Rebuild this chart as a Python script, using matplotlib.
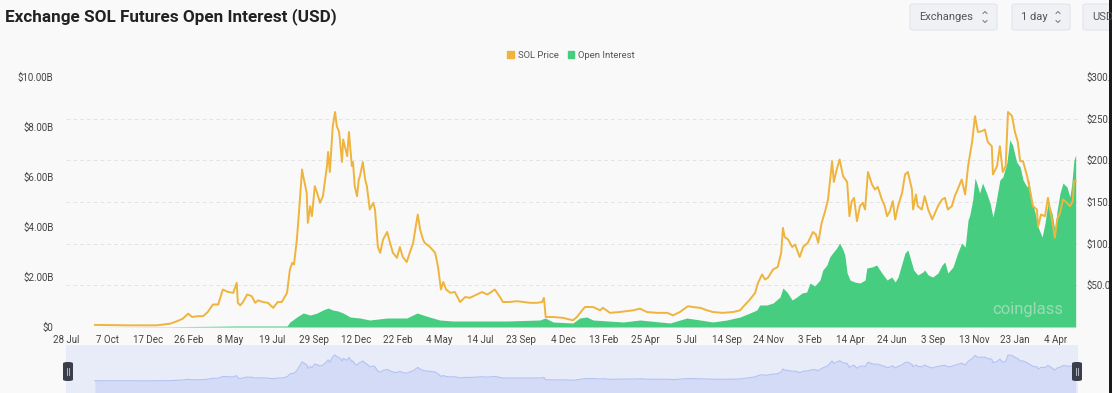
import matplotlib.pyplot as plt
from matplotlib.patches import FancyBboxPatch, Rectangle, Patch
from matplotlib.lines import Line2D
from matplotlib.ticker import FuncFormatter, FixedLocator
import pandas as pd

plt.rcParams['font.family'] = ['Roboto', 'DejaVu Sans']

# SOL price (USD)
price_dates = [
    "2020-09-16", "2020-11-10", "2021-01-01", "2021-01-24", "2021-02-05", "2021-02-15",
    "2021-02-24", "2021-03-03", "2021-03-13", "2021-03-22", "2021-03-30", "2021-04-08",
    "2021-04-17", "2021-04-25", "2021-05-04", "2021-05-13", "2021-05-19", "2021-05-21",
    "2021-05-25", "2021-05-30", "2021-06-06", "2021-06-14", "2021-06-20", "2021-06-25",
    "2021-07-03", "2021-07-12", "2021-07-21", "2021-07-29", "2021-08-05", "2021-08-14",
    "2021-08-19", "2021-08-23", "2021-08-26", "2021-08-31", "2021-09-04", "2021-09-09",
    "2021-09-11", "2021-09-17", "2021-09-19", "2021-09-23", "2021-09-26", "2021-10-01",
    "2021-10-05", "2021-10-10", "2021-10-15", "2021-10-22", "2021-10-24", "2021-10-27",
    "2021-11-01", "2021-11-05", "2021-11-08", "2021-11-12", "2021-11-17", "2021-11-19",
    "2021-11-26", "2021-11-29", "2021-12-04", "2021-12-06", "2021-12-09", "2021-12-13",
    "2021-12-16", "2021-12-18", "2021-12-23", "2021-12-27", "2021-12-30", "2022-01-04",
    "2022-01-10", "2022-01-13", "2022-01-18", "2022-01-22", "2022-01-27", "2022-02-03",
    "2022-02-08", "2022-02-13", "2022-02-20", "2022-02-25", "2022-03-02", "2022-03-09",
    "2022-03-14", "2022-03-20", "2022-03-25", "2022-03-28", "2022-04-01", "2022-04-06",
    "2022-04-09", "2022-04-18", "2022-04-27", "2022-05-02", "2022-05-07", "2022-05-11",
    "2022-05-16", "2022-05-23", "2022-05-31", "2022-06-09", "2022-06-18", "2022-06-26",
    "2022-07-08", "2022-07-17", "2022-07-26", "2022-07-31", "2022-08-08", "2022-08-17",
    "2022-08-22", "2022-09-03", "2022-09-15", "2022-09-26", "2022-10-08", "2022-10-20",
    "2022-10-29", "2022-11-01", "2022-11-04", "2022-11-17", "2022-12-04", "2022-12-21",
    "2022-12-28", "2023-01-06", "2023-01-11", "2023-01-25", "2023-02-06", "2023-02-11",
    "2023-02-23", "2023-03-12", "2023-03-24", "2023-04-04", "2023-04-16", "2023-04-28",
    "2023-05-15", "2023-06-02", "2023-06-12", "2023-06-24", "2023-07-08", "2023-07-16",
    "2023-07-29", "2023-08-10", "2023-08-20", "2023-09-06", "2023-09-24", "2023-10-06",
    "2023-10-11", "2023-10-23", "2023-11-01", "2023-11-06", "2023-11-13", "2023-11-18",
    "2023-11-23", "2023-12-02", "2023-12-10", "2023-12-16", "2023-12-19", "2023-12-22",
    "2023-12-28", "2024-01-04", "2024-01-09", "2024-01-17", "2024-01-23", "2024-01-31",
    "2024-02-09", "2024-02-14", "2024-02-18", "2024-02-24", "2024-03-01", "2024-03-06",
    "2024-03-13", "2024-03-16", "2024-03-21", "2024-03-26", "2024-04-01", "2024-04-08",
    "2024-04-12", "2024-04-16", "2024-04-20", "2024-04-25", "2024-04-30", "2024-05-05",
    "2024-05-09", "2024-05-14", "2024-05-21", "2024-05-26", "2024-05-31", "2024-06-07",
    "2024-06-12", "2024-06-16", "2024-06-21", "2024-06-26", "2024-06-30", "2024-07-05",
    "2024-07-12", "2024-07-17", "2024-07-22", "2024-07-29", "2024-07-31", "2024-08-05",
    "2024-08-08", "2024-08-15", "2024-08-20", "2024-08-26", "2024-09-02", "2024-09-07",
    "2024-09-12", "2024-09-19", "2024-09-24", "2024-09-29", "2024-10-06", "2024-10-11",
    "2024-10-16", "2024-10-23", "2024-10-29", "2024-11-03", "2024-11-10", "2024-11-15",
    "2024-11-20", "2024-11-27", "2024-12-02", "2024-12-07", "2024-12-14", "2024-12-16",
    "2024-12-23", "2024-12-28", "2025-01-02", "2025-01-07", "2025-01-11", "2025-01-18",
    "2025-01-23", "2025-01-28", "2025-02-01", "2025-02-06", "2025-02-13", "2025-02-15",
    "2025-02-20", "2025-02-23", "2025-03-02", "2025-03-04", "2025-03-09", "2025-03-16",
    "2025-03-21", "2025-03-28", "2025-04-02", "2025-04-06", "2025-04-11", "2025-04-16",
    "2025-04-23", "2025-04-28", "2025-05-03", "2025-05-05", "2025-05-08",
]
price_vals = [
    2.5, 2, 2, 4, 7, 10,
    16, 12, 13, 13, 18, 27,
    27, 45, 42, 41, 53, 29,
    26, 30, 39, 37, 29, 32,
    30, 29, 23, 30, 30, 41,
    69, 77, 75, 105, 141, 189,
    181, 161, 125, 145, 133, 169,
    161, 149, 157, 193, 210, 186,
    241, 258, 241, 234, 198, 225,
    205, 234, 193, 198, 169, 157,
    177, 181, 198, 177, 169, 141,
    149, 141, 96, 89, 105, 114,
    101, 89, 83, 96, 84, 78,
    89, 101, 123, 135, 117, 105,
    101, 96, 89, 72, 45, 54,
    45, 41, 42, 30, 36, 35,
    39, 42, 39, 41, 45, 36,
    30, 30, 31, 30, 29, 29,
    30, 35, 12, 12, 11, 8,
    12, 20, 24, 24, 20, 23,
    17, 18, 19, 20, 22, 18,
    17, 17, 14, 18, 25, 24,
    23, 20, 18, 17, 18, 20,
    24, 33, 41, 53, 63, 57,
    59, 69, 72, 89, 119, 108,
    105, 96, 99, 84, 96, 101,
    114, 111, 101, 125, 139, 153,
    199, 174, 189, 201, 181, 174,
    133, 151, 155, 127, 145, 149,
    141, 186, 171, 165, 168, 153,
    145, 133, 139, 151, 129, 145,
    161, 183, 186, 165, 141, 159,
    145, 141, 157, 141, 129, 137,
    145, 153, 155, 141, 145, 157,
    165, 177, 159, 193, 222, 253,
    234, 235, 237, 222, 217, 183,
    193, 217, 186, 193, 258, 253,
    234, 222, 199, 199, 181, 174,
    157, 145, 141, 120, 135, 133,
    155, 129, 107, 129, 137, 153,
    149, 145, 151, 175, 175,
]

# open interest (billion USD)
oi_dates = [
    "2020-09-16", "2021-01-24", "2021-05-19", "2021-08-14", "2021-08-19", "2021-08-31",
    "2021-09-11", "2021-09-23", "2021-10-05", "2021-10-15", "2021-10-24", "2021-11-01",
    "2021-11-10", "2021-11-19", "2021-12-01", "2021-12-18", "2022-01-04", "2022-02-03",
    "2022-02-20", "2022-03-09", "2022-03-27", "2022-04-06", "2022-04-23", "2022-05-05",
    "2022-05-28", "2022-07-01", "2022-08-29", "2022-10-25", "2022-11-03", "2022-11-17",
    "2022-12-21", "2023-01-02", "2023-01-14", "2023-01-25", "2023-03-18", "2023-04-16",
    "2023-06-07", "2023-07-06", "2023-07-29", "2023-08-20", "2023-09-13", "2023-10-06",
    "2023-10-23", "2023-11-04", "2023-11-09", "2023-11-21", "2023-12-02", "2023-12-14",
    "2023-12-19", "2023-12-26", "2024-01-04", "2024-01-12", "2024-01-21", "2024-01-29",
    "2024-02-04", "2024-02-12", "2024-02-21", "2024-02-26", "2024-03-04", "2024-03-09",
    "2024-03-14", "2024-03-21", "2024-03-26", "2024-04-01", "2024-04-04", "2024-04-08",
    "2024-04-13", "2024-04-21", "2024-04-30", "2024-05-09", "2024-05-12", "2024-05-21",
    "2024-05-29", "2024-06-07", "2024-06-16", "2024-06-24", "2024-06-30", "2024-07-05",
    "2024-07-12", "2024-07-17", "2024-07-22", "2024-07-27", "2024-08-01", "2024-08-08",
    "2024-08-17", "2024-08-20", "2024-08-26", "2024-09-03", "2024-09-12", "2024-09-19",
    "2024-09-24", "2024-09-29", "2024-10-08", "2024-10-16", "2024-10-23", "2024-10-29",
    "2024-11-03", "2024-11-06", "2024-11-11", "2024-11-15", "2024-11-18", "2024-11-23",
    "2024-11-28", "2024-12-05", "2024-12-11", "2024-12-16", "2024-12-21", "2024-12-28",
    "2025-01-02", "2025-01-09", "2025-01-14", "2025-01-19", "2025-01-23", "2025-01-26",
    "2025-02-01", "2025-02-06", "2025-02-13", "2025-02-16", "2025-02-21", "2025-02-27",
    "2025-03-04", "2025-03-11", "2025-03-16", "2025-03-21", "2025-03-28", "2025-04-02",
    "2025-04-06", "2025-04-11", "2025-04-16", "2025-04-23", "2025-04-28", "2025-05-01",
    "2025-05-05", "2025-05-08",
]
oi_bn = [
    0.0, 0.01, 0.04, 0.04, 0.2, 0.4,
    0.56, 0.48, 0.56, 0.68, 0.76, 0.68,
    0.64, 0.56, 0.4, 0.36, 0.28, 0.36,
    0.36, 0.36, 0.56, 0.48, 0.36, 0.28,
    0.24, 0.24, 0.24, 0.28, 0.36, 0.2,
    0.16, 0.36, 0.4, 0.28, 0.2, 0.28,
    0.16, 0.36, 0.28, 0.2, 0.28, 0.4,
    0.56, 0.68, 0.88, 0.88, 0.96, 1.2,
    1.56, 1.4, 1.08, 1.2, 1.36, 1.4,
    1.76, 1.64, 1.88, 2.28, 2.48, 2.8,
    2.96, 3.16, 3.36, 3.08, 2.88, 2.16,
    1.88, 1.8, 1.76, 1.88, 2.36, 2.4,
    2.48, 2.16, 1.88, 2.0, 1.8, 2.0,
    2.56, 2.96, 3.08, 2.68, 2.28, 2.08,
    2.2, 2.28, 2.08, 2.0, 2.16, 2.48,
    2.6, 2.16, 2.4, 2.96, 3.36, 3.2,
    4.28, 4.48, 5.08, 5.96, 5.76, 5.36,
    5.76, 5.36, 4.96, 4.4, 4.96, 5.88,
    6.0, 6.56, 7.48, 7.28, 6.88, 6.6,
    6.4, 5.88, 5.6, 5.88, 5.08, 4.56,
    4.0, 3.6, 4.16, 4.96, 4.56, 3.88,
    4.68, 5.36, 5.76, 5.6, 5.2, 5.68,
    6.68, 6.88,
]

tick_dates = [
    "2020-07-28", "2020-10-07", "2020-12-17", "2021-02-26", "2021-05-08", "2021-07-19",
    "2021-09-29", "2021-12-12", "2022-02-22", "2022-05-04", "2022-07-14", "2022-09-23",
    "2022-12-04", "2023-02-13", "2023-04-25", "2023-07-05", "2023-09-14", "2023-11-24",
    "2024-02-03", "2024-04-14", "2024-06-24", "2024-09-03", "2024-11-13", "2025-01-23",
    "2025-04-04",
]
x_start, x_end = "2020-07-28", "2025-05-12"
left_ticks = [0, 2e9, 4e9, 6e9, 8e9, 10e9]
right_ticks = [50, 100, 150, 200, 250, 300]

price_color = '#efb43d'
oi_color = '#47cd80'
bg = '#f9f9f9'

W, H = 1112, 393
fig = plt.figure(figsize=(W / 100, H / 100), dpi=100, facecolor=bg)


def fx(px):
    return px / W


def fy(py):
    return 1 - py / H


p_dates = pd.to_datetime(price_dates)
o_dates = pd.to_datetime(oi_dates)
o_vals = [v * 1e9 for v in oi_bn]

ax = fig.add_axes([fx(66), fy(327), fx(1078) - fx(66), fy(77) - fy(327)])
ax.set_facecolor(bg)
ax.fill_between(o_dates, o_vals, color=oi_color, lw=0, zorder=2)
ax.set_ylim(0, 10e9)
ax.set_xlim(pd.Timestamp(x_start), pd.Timestamp(x_end))
ax.yaxis.set_major_locator(FixedLocator(left_ticks))
ax.yaxis.set_major_formatter(FuncFormatter(lambda v, p: '$0' if v == 0 else '$%.2fB' % (v / 1e9)))
# gridlines follow the right-hand scale
ax.yaxis.set_minor_locator(FixedLocator([10e9 * k / 6 for k in range(0, 7)]))
ax.grid(which='minor', axis='y', color='#e4e4e4', ls=(0, (4, 3)), lw=0.7)
ax.set_axisbelow(True)
ticks = pd.to_datetime(tick_dates)
ax.set_xticks(ticks)
ax.set_xticklabels([f"{d.day} {d:%b}" for d in ticks])
ax.tick_params(axis='both', which='both', length=0, labelsize=7, colors='#444')
ax.tick_params(axis='x', pad=6)
ax.tick_params(axis='y', pad=9)
for s in ax.spines.values():
    s.set_visible(False)

ax2 = ax.twinx()
ax2.plot(p_dates, price_vals, color=price_color, lw=1.4, zorder=3)
ax2.set_ylim(0, 300)
ax2.yaxis.set_major_locator(FixedLocator(right_ticks))
ax2.yaxis.set_major_formatter(FuncFormatter(lambda v, p: '$%.2f' % v))
ax2.tick_params(axis='y', which='both', length=0, labelsize=7, colors='#444', pad=6)
for s in ax2.spines.values():
    s.set_visible(False)
ax2.text(0.985, 0.07, 'coinglass', transform=ax2.transAxes, ha='right', va='center',
         fontsize=12, color='#dfe6e0', alpha=0.55)

# navigator strip under the chart
nav = fig.add_axes([fx(66), 0, fx(1078) - fx(66), fy(345)])
nav.set_facecolor('#e8ebf8')
nav.fill_between(p_dates, price_vals, -200, color='#d3dbf7', lw=0)
nav.plot(p_dates, price_vals, color='#b3c2f2', lw=0.8)
nav.set_ylim(-119, 357)
nav.set_xlim(ax.get_xlim())
nav.set_xticks([])
nav.set_yticks([])
for s in nav.spines.values():
    s.set_visible(False)
for hx in (68, 1077):
    fig.add_artist(FancyBboxPatch((fx(hx - 5), fy(381)), fx(10), fy(362) - fy(381),
                                  boxstyle='round,pad=0,rounding_size=0.004',
                                  transform=fig.transFigure, fc='#3a3e4a', ec='none'))
    for dx in (-1.2, 1.2):
        fig.add_artist(Line2D([fx(hx + dx)] * 2, [fy(375), fy(368)], color='#c9cbd2', lw=0.6,
                              transform=fig.transFigure))

fig.text(fx(5), fy(17), 'Exchange SOL Futures Open Interest (USD)', fontsize=12.3,
         fontweight='bold', color='#222', va='center', ha='left')

fig.legend(handles=[Patch(color=price_color, label='SOL Price'),
                    Patch(color=oi_color, label='Open Interest')],
           loc='center', bbox_to_anchor=(fx(571), fy(55)), ncol=2, frameon=False,
           fontsize=6.8, handlelength=0.7, handleheight=0.7, handletextpad=0.4,
           columnspacing=1.0, labelcolor='#555')


def button(x0, x1, label, chevron=True):
    fig.add_artist(FancyBboxPatch((fx(x0), fy(30)), fx(x1 - x0), fy(4) - fy(30),
                                  boxstyle='round,pad=0,rounding_size=0.004',
                                  transform=fig.transFigure, fc='#eff1f4', ec='#e2e5ea', lw=0.8))
    tx = x0 + 9
    fig.text(fx(tx), fy(17), label, fontsize=8, color='#555', va='center', ha='left')
    if chevron:
        cx = x1 - 12
        for y0, y1 in ((13.5, 11.5), (20.5, 22.5)):
            fig.add_artist(Line2D([fx(cx - 2), fx(cx), fx(cx + 2)], [fy(y0), fy(y1), fy(y0)],
                                  color='#777', lw=0.7, transform=fig.transFigure))


button(910, 997, 'Exchanges')
button(1012, 1070, '1 day')
button(1083, 1130, 'USD', chevron=False)

fig.add_artist(Rectangle((fx(1109), 0), fx(3), 1, transform=fig.transFigure,
                         fc='#1a1a1a', ec='none'))

fig.savefig('out.png', dpi=100, facecolor=bg)
